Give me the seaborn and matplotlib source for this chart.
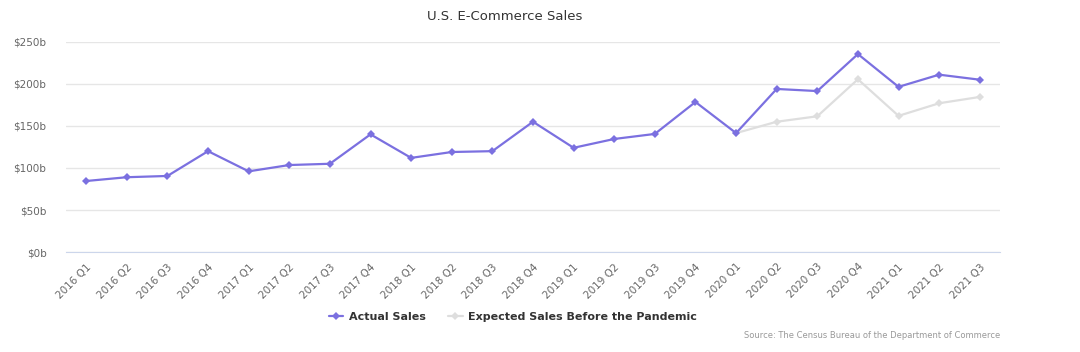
import numpy as np
import pandas as pd
import matplotlib.pyplot as plt
import seaborn as sns
from matplotlib.ticker import FuncFormatter, MultipleLocator

# Quarterly U.S. e-commerce sales, billions of dollars
quarters = ['2016 Q1', '2016 Q2', '2016 Q3', '2016 Q4',
            '2017 Q1', '2017 Q2', '2017 Q3', '2017 Q4',
            '2018 Q1', '2018 Q2', '2018 Q3', '2018 Q4',
            '2019 Q1', '2019 Q2', '2019 Q3', '2019 Q4',
            '2020 Q1', '2020 Q2', '2020 Q3', '2020 Q4',
            '2021 Q1', '2021 Q2', '2021 Q3']
actual_sales = [84.5, 89.0, 90.5, 120.0,
                96.0, 103.5, 105.0, 140.0,
                112.0, 119.0, 120.0, 155.0,
                124.0, 134.5, 140.5, 178.5,
                141.5, 194.0, 191.5, 235.5,
                196.5, 211.0, 205.0]
expected_sales = [None] * 16 + [141.5, 155.0, 161.5, 205.5, 162.0, 177.0, 184.5]
series_names = ['Actual Sales', 'Expected Sales Before the Pandemic']
series_colors = ['#7b70e0', '#dedede']

sns.set_style('white')
plt.rcParams['font.family'] = ['DejaVu Sans']

rows = []
for i, q in enumerate(quarters):
    rows.append({'idx': i, 'quarter': q, 'sales': actual_sales[i], 'series': series_names[0]})
    if expected_sales[i] is not None:
        rows.append({'idx': i, 'quarter': q, 'sales': expected_sales[i], 'series': series_names[1]})
df = pd.DataFrame(rows)

fig = plt.figure(figsize=(10.8, 3.52), dpi=100)
ax = fig.add_axes([0.061, 0.284, 0.865, 0.597])

# draw expected first so actual sits on top
sns.lineplot(data=df, x='idx', y='sales', hue='series',
             hue_order=series_names[::-1], palette=series_colors[::-1],
             marker='D', markersize=4.5, markeredgewidth=0, linewidth=1.6,
             ax=ax, legend=False)

ax.set_xlim(-0.5, len(quarters) - 0.5)
ax.set_ylim(0, 250)
ax.yaxis.set_major_locator(MultipleLocator(50))
ax.yaxis.set_major_formatter(FuncFormatter(lambda v, p: '${:d}b'.format(int(v))))
ax.grid(axis='y', color='#e6e6e6', linewidth=1)
ax.set_axisbelow(True)

ax.set_xticks(range(len(quarters)))
ax.set_xticklabels(quarters, rotation=45, ha='right', rotation_mode='anchor')
ax.tick_params(axis='x', which='major', length=0, pad=7, labelsize=7.5, labelcolor='#666666')
ax.set_xticks(np.arange(-0.5, len(quarters), 1), minor=True)
ax.tick_params(axis='x', which='minor', length=6, color='#ccd6eb', width=1)
ax.tick_params(axis='y', length=0, labelsize=7.5, labelcolor='#666666', pad=14)

for s in ['top', 'right', 'left']:
    ax.spines[s].set_visible(False)
ax.spines['bottom'].set_color('#ccd6eb')
ax.set_xlabel('')
ax.set_ylabel('')

fig.text(0.467, 0.952, 'U.S. E-Commerce Sales', ha='center', va='center',
         fontsize=9.5, color='#333333')

handles = [plt.Line2D([], [], color=c, marker='D', markersize=4, markeredgewidth=0, linewidth=1.6)
           for c in series_colors]
fig.legend(handles, series_names, loc='center', bbox_to_anchor=(0.475, 0.1), ncol=2,
           frameon=False, handlelength=1.3, columnspacing=2.0, handletextpad=0.5,
           prop={'size': 8, 'weight': 'bold'}, labelcolor='#333333')

fig.text(0.926, 0.048, 'Source: The Census Bureau of the Department of Commerce',
         ha='right', va='center', fontsize=6, color='#999999')

fig.savefig('out.png', dpi=100)
